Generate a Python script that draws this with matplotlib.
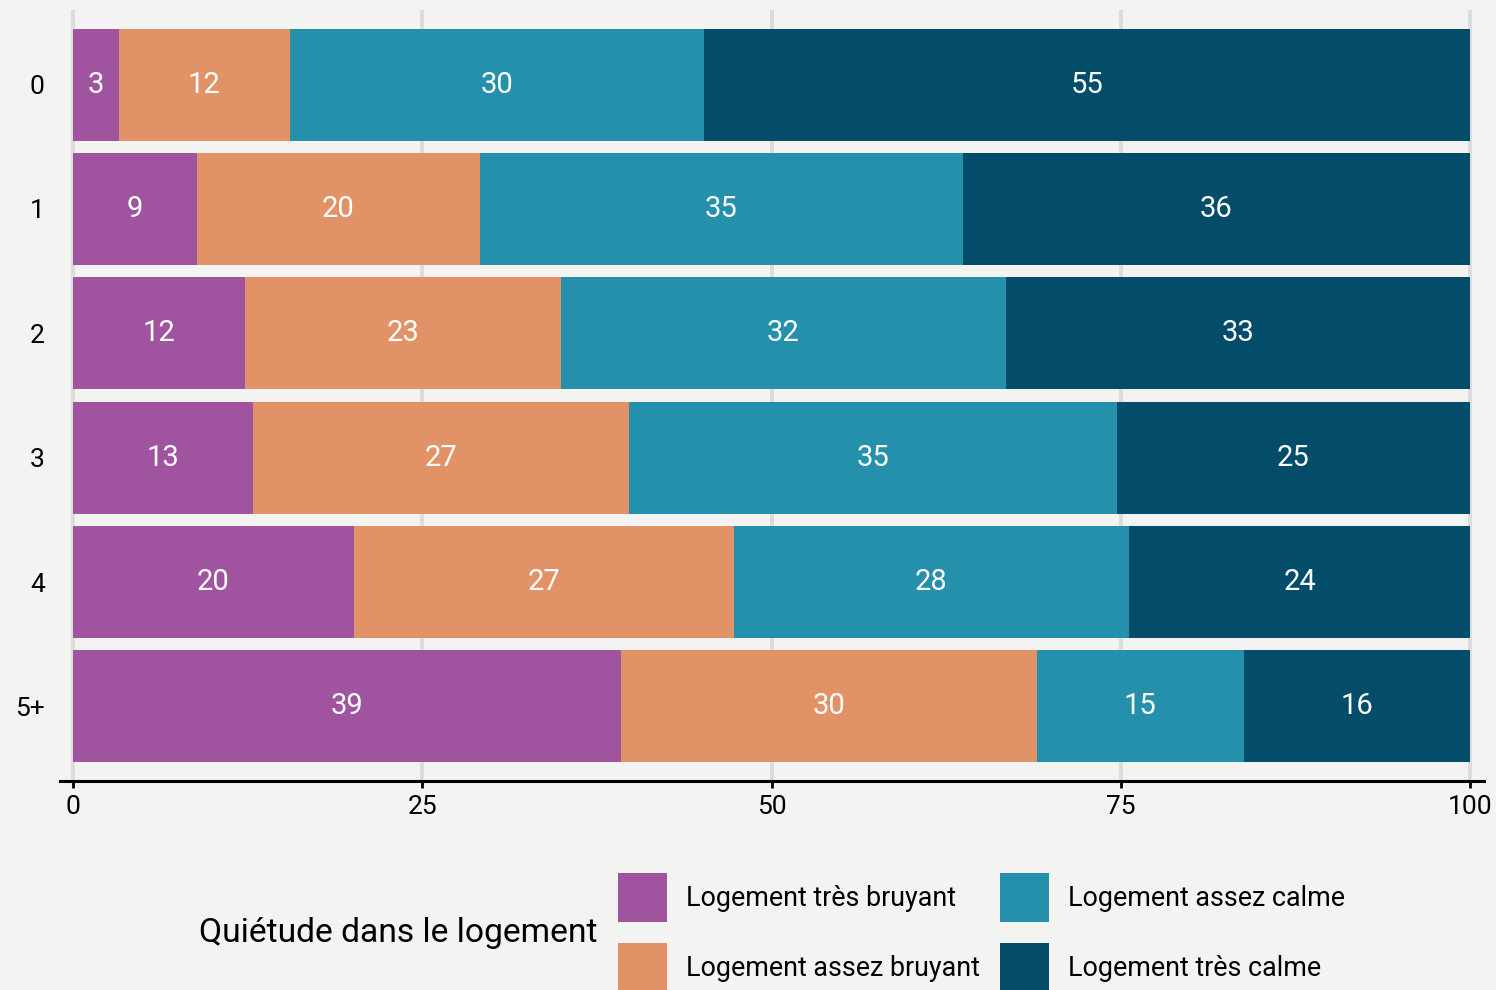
import numpy as np
import matplotlib
matplotlib.use('Agg')
import matplotlib.pyplot as plt
from matplotlib.patches import Patch

plt.rcParams['font.family'] = ['Roboto', 'DejaVu Sans']

# Data (share of households, %) by number of something per household
categories = ['0', '1', '2', '3', '4', '5+']
tres_bruyant = [3.3, 8.9, 12.3, 12.9, 20.1, 39.2]
assez_bruyant = [12.2, 20.2, 22.6, 26.9, 27.2, 29.8]
assez_calme = [29.7, 34.6, 31.9, 34.9, 28.3, 14.8]
tres_calme = [54.8, 36.3, 33.2, 25.3, 24.4, 16.2]

series_names = ['Logement très bruyant', 'Logement assez bruyant',
                'Logement assez calme', 'Logement très calme']
colors = ['#A054A0', '#E29267', '#2490AB', '#034C6A']
bg = '#F3F3F1'

series = [tres_bruyant, assez_bruyant, assez_calme, tres_calme]

fig = plt.figure(figsize=(14.96, 9.9), dpi=100, facecolor=bg)
ax = fig.add_axes([60 / 1496, 1 - 781 / 990, 1424 / 1496, 771 / 990])
ax.set_facecolor(bg)

y = np.arange(len(categories))
left = np.zeros(len(categories))
for vals, col in zip(series, colors):
    vals = np.array(vals)
    bars = ax.barh(y, vals, left=left, height=0.9, color=col, zorder=3)
    ax.bar_label(bars, labels=[f'{round(v):d}' for v in vals], label_type='center',
                 color='white', fontsize=21)
    left += vals

ax.set_xlim(-0.93, 101)
ax.set_ylim(5.6, -0.6)
ax.set_yticks(y)
ax.set_yticklabels(categories)
ax.set_xticks([0, 25, 50, 75, 100])
ax.tick_params(axis='y', length=0, pad=11, labelsize=19)
ax.tick_params(axis='x', length=5, width=2, pad=5, labelsize=19, direction='out')
ax.grid(axis='x', color='#DCDCDC', linewidth=2.8, zorder=0)
for s in ['top', 'right', 'left']:
    ax.spines[s].set_visible(False)
ax.spines['bottom'].set_linewidth(2.2)

fig.text(199 / 1496, 1 - 933 / 990, 'Quiétude dans le logement',
         fontsize=24.2, va='center', ha='left')

handles = [Patch(facecolor=c, edgecolor='none') for c in colors]
fig.legend(handles, series_names, ncol=2, frameon=False, fontsize=19.4,
           loc='upper left', bbox_to_anchor=(618 / 1496, 1 - 873 / 990),
           borderpad=0, borderaxespad=0, handlelength=1.82, handleheight=2.42,
           handletextpad=0.7, columnspacing=0.74, labelspacing=0.78)

fig.savefig('out.png', dpi=100, facecolor=bg)
